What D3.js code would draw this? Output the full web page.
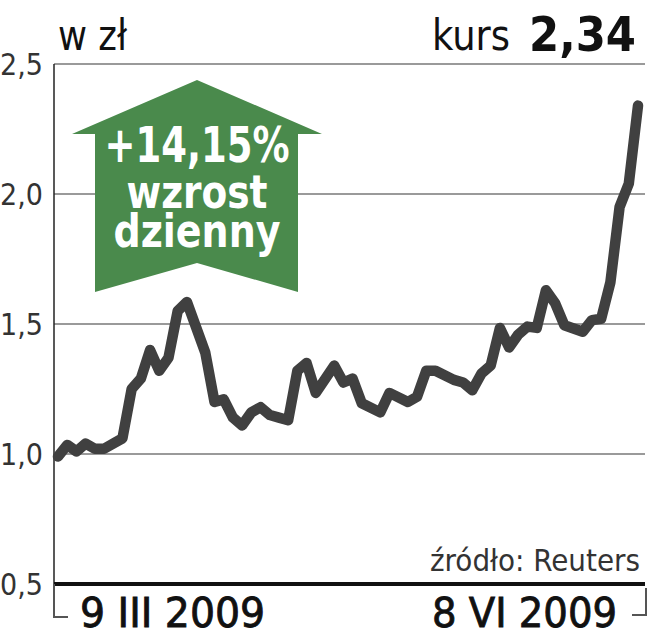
<!DOCTYPE html>
<html><head><meta charset="utf-8">
<script src="https://cdn.jsdelivr.net/npm/d3@7"></script>
<style>
html,body{margin:0;padding:0;background:#fff;}
svg{display:block;}
</style></head>
<body>
<svg id="chart" width="647" height="640"></svg>
<script>
// ---- data ----
const sessions = [0,1,2,3,4,5,7,8,9,10,11,12,13,14,16,17,18,19,20,21,22,23,24,25,26,27,28,30,31,32,33,35,36,38,39,40,41,43,44,45,46,47,48,49,50,51,52,53,54,55,57,58,59,60,61,62,63];
const prices = [0.99,1.035,1.01,1.04,1.02,1.02,1.06,1.25,1.29,1.40,1.32,1.37,1.55,1.585,1.39,1.20,1.21,1.14,1.11,1.16,1.18,1.15,1.14,1.13,1.32,1.35,1.235,1.34,1.275,1.29,1.195,1.16,1.235,1.20,1.22,1.32,1.32,1.285,1.275,1.245,1.31,1.34,1.485,1.41,1.46,1.49,1.485,1.63,1.58,1.495,1.47,1.515,1.52,1.66,1.95,2.04,2.34];
const yTicks = [0.5,1.0,1.5,2.0,2.5];
const dateLabels = ["9 III 2009","8 VI 2009"];
const unitLabel = "w zł";
const kursLabel = "kurs";
const kursValue = "2,34";
const arrowLines = ["+14,15%","wzrost","dzienny"];
const sourceLabel = "źródło: Reuters";

const svg = d3.select("#chart");
const narrow = "'Liberation Sans Narrow','DejaVu Sans Condensed','Roboto',sans-serif";

const x = d3.scaleLinear().domain([0,63]).range([58,638]);
const y = d3.scaleLinear().domain([0.5,2.5]).range([584,64]);
const fmt = v => d3.format(".1f")(v).replace(".", ",");

// gridlines
svg.append("g").selectAll("line").data(yTicks.filter(t=>t>0.5)).join("line")
  .attr("x1",54).attr("x2",645).attr("y1",d=>y(d)).attr("y2",d=>y(d))
  .attr("stroke","#9a9a9a").attr("stroke-width",2);

// y axis tick labels
svg.append("g").selectAll("text").data(yTicks).join("text")
  .attr("x",43).attr("y",d=>y(d)+11).attr("text-anchor","end")
  .attr("font-family",narrow).attr("font-size",30).attr("fill","#333")
  .text(fmt);

// vertical axis
svg.append("line").attr("x1",54).attr("x2",54).attr("y1",y(2.5)).attr("y2",y(0.5))
  .attr("stroke","#222").attr("stroke-width",1.5);

// arrow
const ax = 197;
const arrowPts = [[ax,80],[322,134],[298,134],[298,292],[ax,263],[95,292],[95,134],[72,134]];
svg.append("polygon").attr("points",arrowPts.map(p=>p.join(",")).join(" "))
  .attr("fill","#4a8a4c");
const at = svg.append("g").attr("font-family",narrow).attr("font-weight","bold")
  .attr("fill","#fff").attr("text-anchor","middle");
at.append("text").attr("x",ax).attr("y",162).attr("font-size",50)
  .attr("textLength",185).attr("lengthAdjust","spacingAndGlyphs").text(arrowLines[0]);
at.append("text").attr("x",ax).attr("y",208).attr("font-size",46)
  .attr("textLength",141).attr("lengthAdjust","spacingAndGlyphs").text(arrowLines[1]);
at.append("text").attr("x",ax).attr("y",247).attr("font-size",46)
  .attr("textLength",167).attr("lengthAdjust","spacingAndGlyphs").text(arrowLines[2]);

// line
const data = sessions.map((s,i)=>({s, v:prices[i]}));
svg.append("path").datum(data)
  .attr("d", d3.line().x(d=>x(d.s)).y(d=>y(d.v)))
  .attr("fill","none").attr("stroke","#404040").attr("stroke-width",10.5)
  .attr("stroke-linejoin","round").attr("stroke-linecap","round");

// bottom axis
svg.append("line").attr("x1",54).attr("x2",645).attr("y1",y(0.5)).attr("y2",y(0.5))
  .attr("stroke","#111").attr("stroke-width",4);

// brackets
svg.append("path").attr("d",`M54,${y(0.5)} V617 H68`).attr("fill","none").attr("stroke","#555").attr("stroke-width",2);
svg.append("path").attr("d",`M646,588 V615 H632`).attr("fill","none").attr("stroke","#555").attr("stroke-width",2);

// date labels
svg.append("text").attr("x",80).attr("y",627).attr("font-family",narrow).attr("font-size",40)
  .attr("fill","#111").attr("stroke","#111").attr("stroke-width",0.8)
  .attr("textLength",185).attr("lengthAdjust","spacingAndGlyphs").text(dateLabels[0]);
svg.append("text").attr("x",432).attr("y",627).attr("font-family",narrow).attr("font-size",40)
  .attr("fill","#111").attr("stroke","#111").attr("stroke-width",0.8)
  .attr("textLength",185).attr("lengthAdjust","spacingAndGlyphs").text(dateLabels[1]);

// source
svg.append("text").attr("x",430).attr("y",571).attr("font-family",narrow)
  .attr("font-size",30).attr("fill","#333")
  .attr("textLength",210).attr("lengthAdjust","spacingAndGlyphs").text(sourceLabel);

// titles
svg.append("text").attr("x",58).attr("y",50).attr("font-family",narrow).attr("font-size",42)
  .attr("fill","#111").attr("textLength",69).attr("lengthAdjust","spacingAndGlyphs").text(unitLabel);
svg.append("text").attr("x",432).attr("y",50).attr("font-family",narrow).attr("font-size",42)
  .attr("fill","#111").attr("textLength",78).attr("lengthAdjust","spacingAndGlyphs").text(kursLabel);
svg.append("text").attr("x",529).attr("y",51).attr("font-family",narrow).attr("font-size",48)
  .attr("font-weight","bold").attr("fill","#111")
  .attr("textLength",107).attr("lengthAdjust","spacingAndGlyphs").text(kursValue);
</script>
</body></html>
